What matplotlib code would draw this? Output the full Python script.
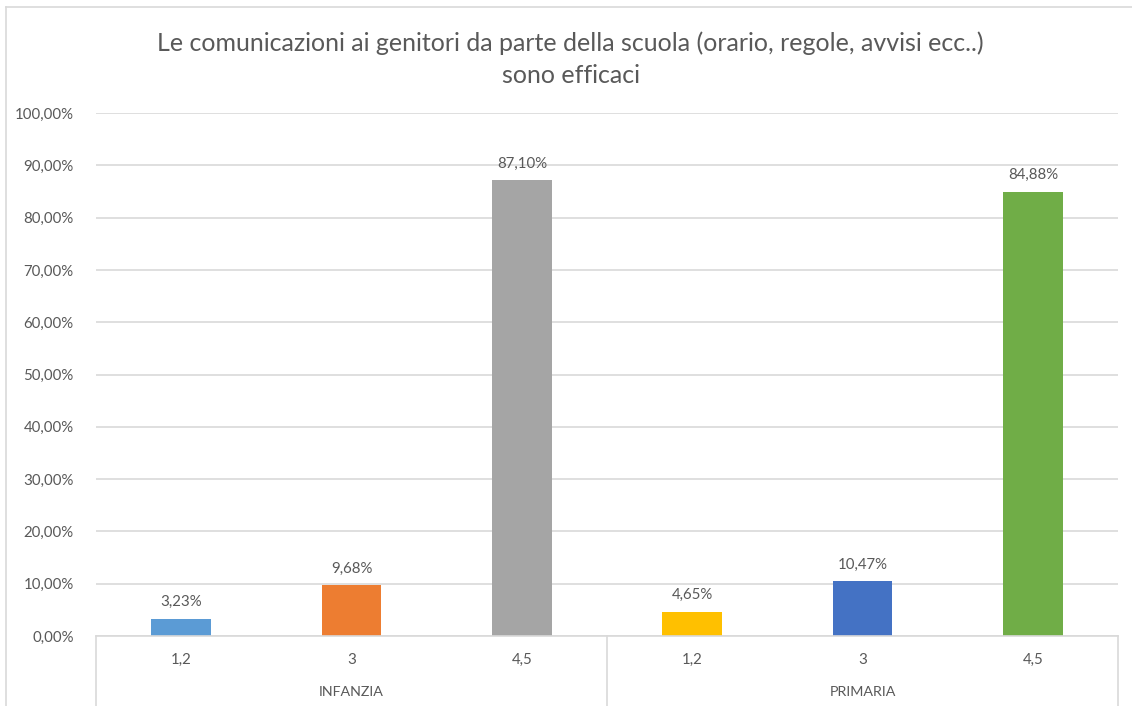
import matplotlib
matplotlib.use("Agg")
import matplotlib.pyplot as plt
import matplotlib.transforms as mtransforms
from matplotlib.lines import Line2D

groups = ["INFANZIA", "PRIMARIA"]
categories = ["1,2", "3", "4,5", "1,2", "3", "4,5"]
values = [3.23, 9.68, 87.10, 4.65, 10.47, 84.88]
colors = ["#5B9BD5", "#ED7D31", "#A5A5A5", "#FFC000", "#4472C4", "#70AD47"]
yticks = [0, 10, 20, 30, 40, 50, 60, 70, 80, 90, 100]
title = "Le comunicazioni ai genitori da parte della scuola (orario, regole, avvisi ecc..)\nsono efficaci"

plt.rcParams['font.family'] = ['Lato', 'DejaVu Sans']
W, H = 1132, 706
fig = plt.figure(figsize=(W / 100, H / 100), dpi=100)

# outer chart border (left and top)
fig.add_artist(Line2D([6 / W, 6 / W], [0, 1 - 7 / H], color="#d9d9d9", lw=1.2))
fig.add_artist(Line2D([6 / W, 1], [1 - 7 / H, 1 - 7 / H], color="#d9d9d9", lw=1.2))

left, right = 96 / W, 1118 / W
bottom, top = 1 - 636 / H, 1 - 113 / H
ax = fig.add_axes([left, bottom, right - left, top - bottom])

x = list(range(len(values)))
ax.bar(x, values, width=0.35, color=colors, zorder=3)
ax.set_xlim(-0.5, len(values) - 0.5)
ax.set_ylim(0, 100)
ax.set_yticks(yticks)
ax.set_yticklabels([f"{t:.2f}%".replace(".", ",") for t in yticks])
ax.tick_params(axis="y", length=0, pad=16, labelsize=10.8, labelcolor="#595959")
ax.set_xticks([])
ax.grid(axis="y", color="#d9d9d9", lw=1.2, zorder=0)
for s in ["left", "right", "top"]:
    ax.spines[s].set_visible(False)
ax.spines["bottom"].set_color("#d9d9d9")
ax.spines["bottom"].set_linewidth(1.2)
ax.spines["bottom"].set_zorder(4)

for xi, v in zip(x, values):
    ax.annotate(f"{v:.2f}%".replace(".", ","), (xi, v), xytext=(0, 7),
                textcoords="offset points", ha="center", va="bottom",
                fontsize=10.8, color="#595959")

trans = mtransforms.blended_transform_factory(ax.transData, ax.transAxes)
axh = 636 - 113
for xi, c in zip(x, categories):
    ax.text(xi, -(660 - 636) / axh, c, transform=trans, ha="center", va="center",
            fontsize=10.8, color="#595959")
n_per = len(categories) // len(groups)
for gi, g in enumerate(groups):
    cx = gi * n_per + (n_per - 1) / 2
    ax.text(cx, -(692 - 636) / axh, g, transform=trans, ha="center", va="center",
            fontsize=10.3, color="#595959")
for sx in [-0.5, n_per - 0.5, len(categories) - 0.5]:
    ax.plot([sx, sx], [0, -(H - 636 + 2) / axh], transform=trans, color="#d9d9d9",
            lw=1.2, clip_on=False)

fig.text(0.504, 1 - 59 / H, title, ha="center", va="center", fontsize=18,
         color="#595959", linespacing=1.5)

fig.savefig("out.png", dpi=100, facecolor="white")
